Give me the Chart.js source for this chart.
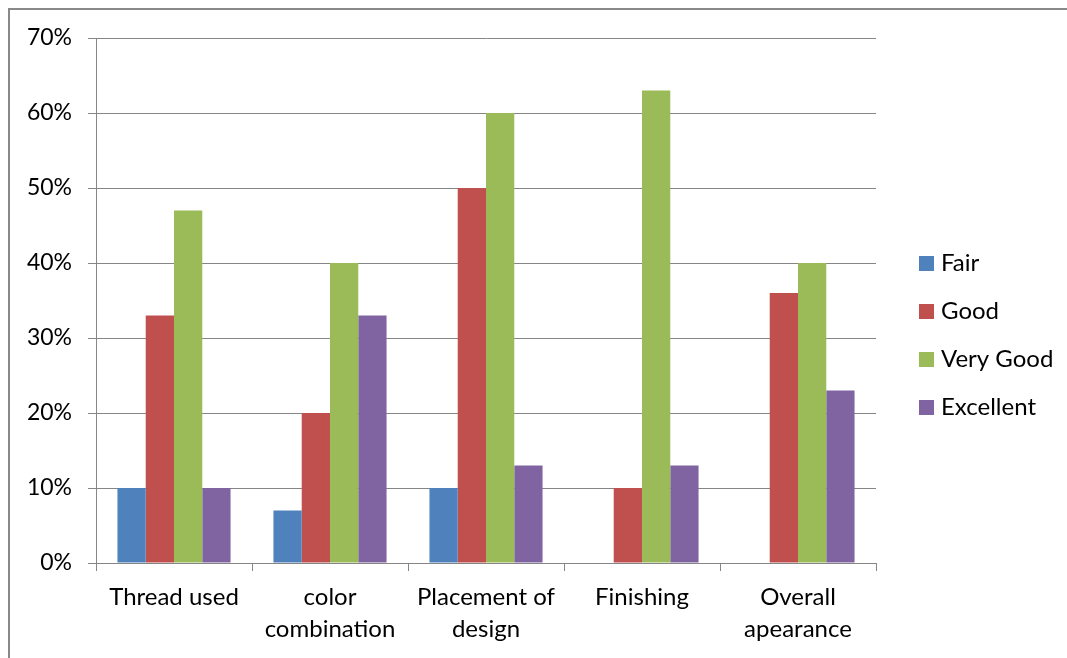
<!DOCTYPE html>
<html>
<head>
<meta charset="utf-8">
<script src="https://cdn.jsdelivr.net/npm/chart.js@4/dist/chart.umd.min.js"></script>
<style>
html,body{margin:0;padding:0;background:#fff;}
#wrap{width:1067px;height:658px;position:relative;}
</style>
</head>
<body>
<div id="wrap"><canvas id="c" width="1067" height="658"></canvas></div>
<script>
const categories = ["Thread used", ["color", "combination"], ["Placement of", "design"], "Finishing", ["Overall", "apearance"]];
const seriesNames = ["Fair", "Good", "Very Good", "Excellent"];
const fair = [10, 7, 10, 0, 0];
const good = [33, 20, 50, 10, 36];
const veryGood = [47, 40, 60, 63, 40];
const excellent = [10, 33, 13, 13, 23];
const yTicks = [0, 10, 20, 30, 40, 50, 60, 70];
const colors = ["#4F81BD", "#C0504D", "#9BBB59", "#8064A2"];

const FONT = "Lato";
const gridColor = "#868686";

const borderAndLegend = {
  id: "borderAndLegend",
  beforeDraw(chart) {
    const ctx = chart.ctx;
    ctx.save();
    ctx.fillStyle = "#fff";
    ctx.fillRect(0, 0, chart.width, chart.height);
    ctx.strokeStyle = "#898989";
    ctx.lineWidth = 2;
    ctx.strokeRect(9, 9, 1100, 700);
    ctx.restore();
  },
  afterDraw(chart) {
    const ctx = chart.ctx;
    ctx.save();
    ctx.font = "24px " + FONT;
    ctx.textBaseline = "middle";
    ctx.textAlign = "left";
    chart.data.datasets.forEach((ds, i) => {
      const cy = 263.5 + i * 48;
      ctx.fillStyle = ds.backgroundColor;
      ctx.fillRect(919, cy - 7.5, 15, 15);
      ctx.fillStyle = "#000";
      ctx.fillText(ds.label, 941, cy);
    });
    ctx.restore();
  }
};

new Chart(document.getElementById("c"), {
  type: "bar",
  data: {
    labels: categories,
    datasets: [fair, good, veryGood, excellent].map((d, i) => ({
      label: seriesNames[i],
      data: d,
      backgroundColor: colors[i],
      borderWidth: 0,
      barPercentage: 1,
      categoryPercentage: 0.725
    }))
  },
  options: {
    responsive: false,
    animation: false,
    layout: { padding: { left: 0, top: 38, right: 191, bottom: 0 } },
    plugins: { legend: { display: false }, tooltip: { enabled: false } },
    scales: {
      x: {
        offset: true,
        grid: { display: true, drawOnChartArea: false, drawTicks: true, tickLength: 8, color: gridColor, offset: true },
        border: { color: gridColor, width: 1 },
        ticks: { color: "#000", font: { family: FONT, size: 24, lineHeight: 1.333 }, padding: 10, maxRotation: 0, autoSkip: false },
        afterFit(s) { s.height = 95; }
      },
      y: {
        min: 0, max: 70,
        afterBuildTicks(s) { s.ticks = yTicks.map(v => ({ value: v })); },
        grid: { color: gridColor, lineWidth: 1, tickLength: 8 },
        border: { color: gridColor, width: 1 },
        ticks: { color: "#000", font: { family: FONT, size: 23 }, padding: 16, callback: v => v + "%" },
        afterFit(s) { s.width = 96; }
      }
    }
  },
  plugins: [borderAndLegend]
});
</script>
</body>
</html>
